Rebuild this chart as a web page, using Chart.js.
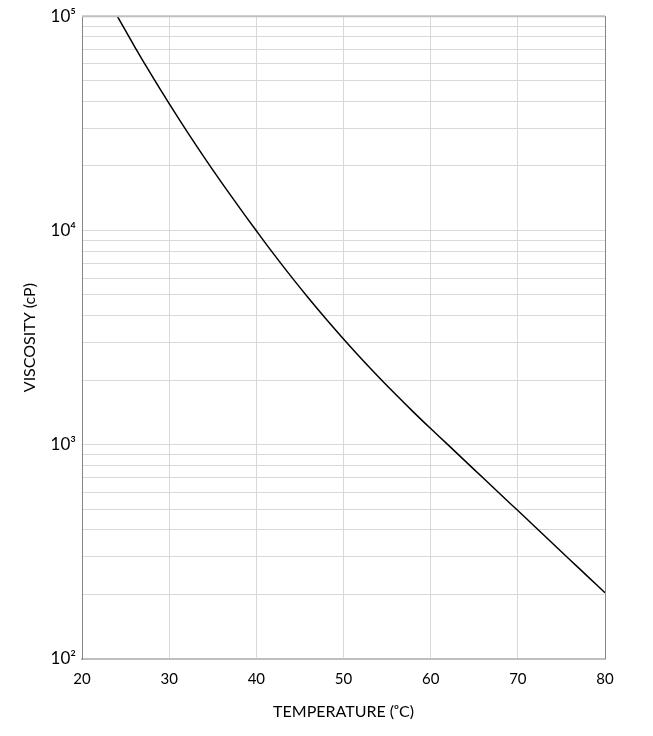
<!DOCTYPE html>
<html>
<head>
<meta charset="utf-8">
<script src="https://cdn.jsdelivr.net/npm/chart.js@4.4.1/dist/chart.umd.min.js"></script>
<style>
html,body{margin:0;padding:0;background:#fff;}
#wrap{width:653px;height:736px;position:relative;}
</style>
</head>
<body>
<div id="wrap"><canvas id="c" width="653" height="736"></canvas></div>
<script>
const temperatures = [24, 26, 28, 30, 32, 34, 36, 38, 40, 42, 44, 46, 48, 50, 52, 54, 56, 58, 60, 62, 64, 66, 68, 70, 72, 74, 76, 78, 80];
const viscosity = [100800, 72550, 52910, 39050, 29150, 21990, 16760, 12890, 9970, 7755, 6088, 4827, 3861, 3116, 2533, 2076, 1714, 1424, 1190, 998, 836, 701, 587, 493, 413, 346, 290, 243, 204];
const xTicks = [20, 30, 40, 50, 60, 70, 80];
const yDecadeLabels = {100: '10²', 1000: '10³', 10000: '10⁴', 100000: '10⁵'};
const xTitle = 'TEMPERATURE (ᵒC)';
const yTitle = 'VISCOSITY (cP)';

const FONT = 'Lato, "Open Sans", "DejaVu Sans", sans-serif';

const points = temperatures.map((t, i) => ({x: t, y: viscosity[i]}));

const borderPlugin = {
  id: 'borders',
  afterDraw(chart) {
    const {ctx, chartArea: a} = chart;
    ctx.save();
    ctx.strokeStyle = '#bfbfbf';
    ctx.lineWidth = 2;
    ctx.beginPath(); ctx.moveTo(a.left, a.top); ctx.lineTo(a.right, a.top); ctx.stroke();
    ctx.strokeStyle = '#868686';
    ctx.lineWidth = 1;
    ctx.beginPath(); ctx.moveTo(a.right + 0.5, a.top); ctx.lineTo(a.right + 0.5, a.bottom); ctx.stroke();
    ctx.restore();
  }
};

new Chart(document.getElementById('c'), {
  type: 'line',
  data: {
    datasets: [{
      data: points,
      borderColor: '#000000',
      borderWidth: 1.5,
      pointRadius: 0,
      tension: 0.4,
      fill: false
    }]
  },
  options: {
    responsive: false,
    animation: false,
    devicePixelRatio: 1,
    layout: {padding: {left: 0, right: 48, top: 15, bottom: 0}},
    plugins: {legend: {display: false}, tooltip: {enabled: false}},
    scales: {
      x: {
        type: 'linear',
        min: 20, max: 80,
        afterBuildTicks(scale) { scale.ticks = xTicks.map(v => ({value: v})); },
        afterFit(scale) { scale.height = 77; },
        grid: {color: '#d9d9d9', lineWidth: 1, drawTicks: false},
        border: {color: '#bfbfbf', width: 2},
        ticks: {color: '#000', font: {family: FONT, size: 15}, padding: 11, maxRotation: 0},
        title: {display: true, text: xTitle, color: '#000', font: {family: FONT, size: 16}, padding: {top: 15, bottom: 15}}
      },
      y: {
        type: 'logarithmic',
        min: 100, max: 100000,
        afterBuildTicks(scale) {
          const t = [];
          for (let e = 2; e <= 5; e++) {
            for (let m = 1; m <= 9; m++) {
              const v = m * Math.pow(10, e);
              if (v <= 100000) t.push({value: v, major: m === 1});
            }
          }
          scale.ticks = t;
        },
        afterFit(scale) { scale.width = 82; },
        grid: {color: '#d9d9d9', lineWidth: 1, drawTicks: false},
        border: {color: '#868686', width: 1},
        ticks: {
          color: '#000', font: {family: FONT, size: 17}, padding: 6, autoSkip: false,
          callback(v) { return yDecadeLabels[v] || ''; }
        },
        title: {display: true, text: yTitle, color: '#000', font: {family: FONT, size: 16}, padding: {top: 20, bottom: 20}}
      }
    }
  },
  plugins: [borderPlugin]
});
</script>
</body>
</html>
